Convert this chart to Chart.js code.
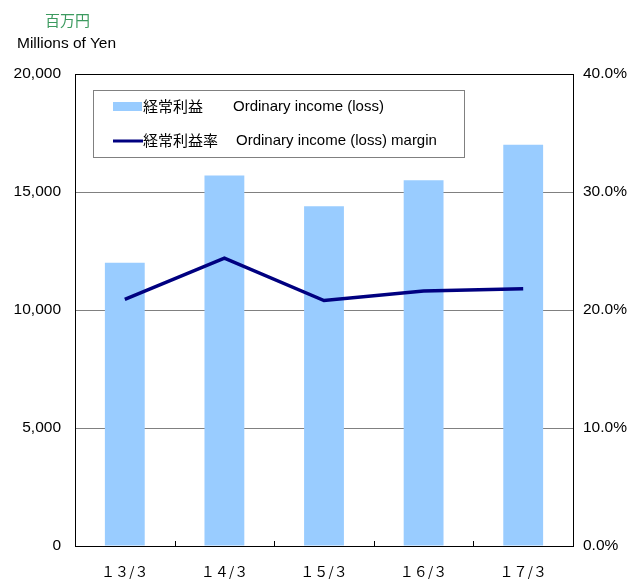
<!DOCTYPE html>
<html>
<head>
<meta charset="utf-8">
<script src="https://cdn.jsdelivr.net/npm/chart.js@4"></script>
<style>
  html, body { margin: 0; padding: 0; background: #fff; }
  #wrap { position: relative; width: 635px; height: 579px; }
  .unit { position: absolute; font-family: "Liberation Sans", Arial, sans-serif; font-size: 15.5px; white-space: nowrap; line-height: 1; }
  #unitJa { left: 45px; top: 12px; color: #3c9a5f; font-family: "Noto Sans CJK JP", sans-serif; font-size: 15px; }
  #unitEn { left: 17px; top: 35px; color: #000; }
</style>
</head>
<body>
<div id="wrap">
  <canvas id="chart" width="635" height="579"></canvas>
  <div class="unit" id="unitJa">百万円</div>
  <div class="unit" id="unitEn">Millions of Yen</div>
</div>
<script>
const CATEGORIES = ["１３/３", "１４/３", "１５/３", "１６/３", "１７/３"];
const ORDINARY_INCOME = [12000, 15700, 14400, 15500, 17000];   // millions of yen
const ORDINARY_MARGIN = [20.9, 24.4, 20.8, 21.6, 21.8];         // percent
const LEFT_TICKS = [0, 5000, 10000, 15000, 20000];
const RIGHT_TICKS = [0, 10, 20, 30, 40];
const LEGEND_JA = ["経常利益", "経常利益率"];
const LEGEND_EN = ["Ordinary income (loss)", "Ordinary income (loss) margin"];

const BAR_COLOR = '#99ccff';
const LINE_COLOR = '#000080';
const LATIN = '"Liberation Sans", Arial, sans-serif';
const CJK = '"Noto Sans CJK JP", sans-serif';

// plot frame, category ticks and in-plot legend
const decorations = {
  id: 'decorations',
  afterDatasetsDraw(chart) {
    const { ctx, chartArea: a, scales } = chart;
    ctx.save();
    ctx.strokeStyle = '#000';
    ctx.lineWidth = 1;
    ctx.strokeRect(Math.round(a.left) + 0.5, Math.round(a.top) + 0.5,
      Math.round(a.right - a.left), Math.round(a.bottom - a.top));

    // small upward ticks between categories
    const x = scales.x;
    const step = (a.right - a.left) / CATEGORIES.length;
    ctx.beginPath();
    for (let i = 1; i < CATEGORIES.length; i++) {
      const px = Math.round(x.getPixelForValue(i) - step / 2) + 0.5;
      ctx.moveTo(px, a.bottom);
      ctx.lineTo(px, a.bottom - 5);
    }
    ctx.stroke();

    // legend box
    const bx = 93, by = 90, bw = 371, bh = 67;
    ctx.fillStyle = '#fff';
    ctx.fillRect(bx, by, bw, bh);
    ctx.strokeStyle = '#808080';
    ctx.strokeRect(bx + 0.5, by + 0.5, bw, bh);

    ctx.fillStyle = BAR_COLOR;
    ctx.fillRect(113, 102, 29, 9);
    ctx.strokeStyle = LINE_COLOR;
    ctx.lineWidth = 3;
    ctx.beginPath();
    ctx.moveTo(113, 141);
    ctx.lineTo(143, 141);
    ctx.stroke();

    ctx.fillStyle = '#000';
    ctx.textBaseline = 'middle';
    ctx.font = '15px ' + CJK;
    ctx.fillText(LEGEND_JA[0], 143, 106);
    ctx.fillText(LEGEND_JA[1], 143, 140);
    ctx.font = '15px ' + LATIN;
    ctx.fillText(LEGEND_EN[0], 233, 107);
    ctx.fillText(LEGEND_EN[1], 236, 141);
    ctx.restore();
  }
};

const ctx = document.getElementById('chart').getContext('2d');
new Chart(ctx, {
  data: {
    labels: CATEGORIES,
    datasets: [
      {
        type: 'line',
        label: LEGEND_JA[1] + ' ' + LEGEND_EN[1],
        data: ORDINARY_MARGIN,
        yAxisID: 'y1',
        borderColor: LINE_COLOR,
        borderWidth: 3.5,
        pointRadius: 0,
        tension: 0,
        order: 0,
      },
      {
        type: 'bar',
        label: LEGEND_JA[0] + ' ' + LEGEND_EN[0],
        data: ORDINARY_INCOME,
        yAxisID: 'y',
        backgroundColor: BAR_COLOR,
        barPercentage: 0.8,
        categoryPercentage: 0.5,
        order: 1,
      }
    ]
  },
  options: {
    responsive: false,
    animation: false,
    layout: { padding: { top: 74, left: 0, right: 0, bottom: 0 } },
    plugins: {
      legend: { display: false },
      tooltip: { enabled: false }
    },
    scales: {
      x: {
        offset: true,
        grid: { display: false },
        border: { display: false },
        ticks: {
          color: '#000',
          padding: 9,
          font: { family: CJK, size: 14 },
          maxRotation: 0,
        },
        afterFit(scale) { scale.height = 33; }
      },
      y: {
        position: 'left',
        min: 0,
        max: 20000,
        afterBuildTicks(scale) { scale.ticks = LEFT_TICKS.map(v => ({ value: v })); },
        grid: {
          color: ctx => (ctx.tick && ctx.tick.value > 0 && ctx.tick.value < 20000) ? '#808080' : 'rgba(0,0,0,0)',
          lineWidth: 1,
          drawTicks: false,
        },
        border: { display: false },
        ticks: {
          color: '#000',
          padding: 14,
          font: { family: LATIN, size: 15.5 },
          callback: v => v.toLocaleString('en-US'),
        },
        afterFit(scale) { scale.width = 75; }
      },
      y1: {
        position: 'right',
        min: 0,
        max: 40,
        afterBuildTicks(scale) { scale.ticks = RIGHT_TICKS.map(v => ({ value: v })); },
        grid: { display: false, drawTicks: false },
        border: { display: false },
        ticks: {
          color: '#000',
          padding: 10,
          font: { family: LATIN, size: 15.5 },
          callback: v => v.toFixed(1) + '%',
        },
        afterFit(scale) { scale.width = 62; }
      }
    }
  },
  plugins: [decorations]
});
</script>
</body>
</html>
